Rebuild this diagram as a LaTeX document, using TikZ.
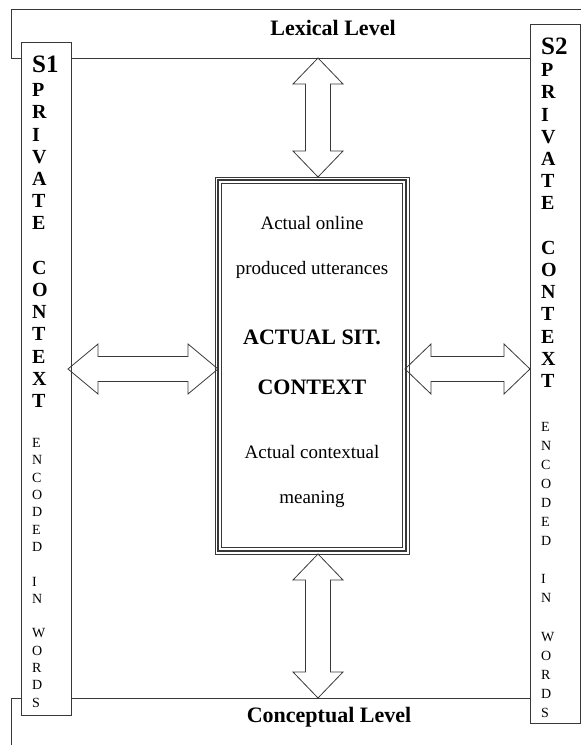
\documentclass[tikz,border=0pt]{standalone}
\usepackage{fontspec}
\setmainfont{Liberation Serif}
\usetikzlibrary{calc}
\definecolor{linegray}{gray}{0.22}

% double-headed block arrow, horizontal: from left point #1 to right point #2, head length #3
\newcommand{\hdarrow}[3]{%
  \draw[fatarrow] (#1) -- ($(#1)+(#3,-25)$) -- ($(#1)+(#3,-12.5)$)
    -- ($(#2)+(-#3,-12.5)$) -- ($(#2)+(-#3,-25)$) -- (#2)
    -- ($(#2)+(-#3,25)$) -- ($(#2)+(-#3,12.5)$)
    -- ($(#1)+(#3,12.5)$) -- ($(#1)+(#3,25)$) -- cycle;}
% double-headed block arrow, vertical: from top point #1 to bottom point #2, head length #3
\newcommand{\vdarrow}[3]{%
  \draw[fatarrow] (#1) -- ($(#1)+(25,#3)$) -- ($(#1)+(12.5,#3)$)
    -- ($(#2)+(12.5,-#3)$) -- ($(#2)+(25,-#3)$) -- (#2)
    -- ($(#2)+(-25,-#3)$) -- ($(#2)+(-12.5,-#3)$)
    -- ($(#1)+(-12.5,#3)$) -- ($(#1)+(-25,#3)$) -- cycle;}

\tikzset{
  frameline/.style={draw=linegray, line width=0.9pt},
  sidebox/.style={draw=linegray, line width=0.9pt, fill=white},
  fatarrow/.style={draw=linegray, line width=0.8pt, line join=miter},
  levellabel/.style={font=\fontsize{22}{26}\selectfont\bfseries, inner sep=0pt},
  headlabel/.style={anchor=base west, inner sep=0pt, font=\fontsize{25}{28}\selectfont\bfseries},
  boldletter/.style={anchor=base west, inner sep=0pt, font=\fontsize{20}{22}\selectfont\bfseries},
  plainletter/.style={anchor=base west, inner sep=0pt, font=\fontsize{14}{16}\selectfont},
  ctrtext/.style={anchor=base, inner sep=0pt, font=\fontsize{19}{22}\selectfont},
  ctrbold/.style={anchor=base, inner sep=0pt, font=\fontsize{22}{26}\selectfont\bfseries},
}

\begin{document}
\begin{tikzpicture}[x=1pt, y=-1pt]
\useasboundingbox (0,0) rectangle (581,745);

% level frames
\draw[frameline] (11,9) rectangle (600,58);
\draw[frameline] (11,698) rectangle (600,770);
\node[levellabel] (lex) at (333,28) {Lexical Level};
\node[levellabel] (con) at (329,717) {Conceptual Level};

% speaker columns
\node[sidebox, minimum width=50pt, minimum height=673pt, inner sep=0pt] (s1) at (46,378.5) {};
\node[sidebox, minimum width=50pt, minimum height=699pt, inner sep=0pt] (s2) at (555,373.5) {};

\node[headlabel] (s1h) at (32,72) {S1};
\foreach \ch/\k in {P/0,R/1,I/2,V/3,A/4,T/5,E/6,C/8,O/9,N/10,T/11,E/12,X/13,T/14}
  \node[boldletter] (s1b-\k) at (32,{96.6+\k*22.2}) {\ch};
\foreach \ch/\k in {E/0,N/1,C/2,O/3,D/4,E/5,D/6,I/8,N/9,W/11,O/12,R/13,D/14,S/15}
  \node[plainletter] (s1p-\k) at (32,{447.6+\k*17.3}) {\ch};

\node[headlabel] (s2h) at (541,54) {S2};
\foreach \ch/\k in {P/0,R/1,I/2,V/3,A/4,T/5,E/6,C/8,O/9,N/10,T/11,E/12,X/13,T/14}
  \node[boldletter] (s2b-\k) at (541,{76.6+\k*22.2}) {\ch};
\foreach \ch/\k in {E/0,N/1,C/2,O/3,D/4,E/5,D/6,I/8,N/9,W/11,O/12,R/13,D/14,S/15}
  \node[plainletter] (s2p-\k) at (541,{431+\k*19.1}) {\ch};

% central box with triple border
\node[draw=linegray, line width=0.8pt, minimum width=194pt, minimum height=377pt, inner sep=0pt] (ctr) at (312,365.5) {};
\draw[linegray, line width=2pt] ($(ctr.north west)+(3.2,3.2)$) rectangle ($(ctr.south east)+(-3.2,-3.2)$);
\draw[linegray, line width=0.8pt] ($(ctr.north west)+(7,7)$) rectangle ($(ctr.south east)+(-7,-7)$);

\node[ctrtext] (t1) at (312,229.5) {Actual online};
\node[ctrtext] (t2) at (312,274.5) {produced utterances};
\node[ctrbold] (t3) at (312,344) {ACTUAL SIT.};
\node[ctrbold] (t4) at (312,394) {CONTEXT};
\node[ctrtext] (t5) at (312,458.5) {Actual contextual};
\node[ctrtext] (t6) at (312,503.5) {meaning};

% arrow end points
\coordinate (upA) at (318,58);
\coordinate (upB) at (318,177);
\coordinate (dnA) at (318,554);
\coordinate (dnB) at (318,698);
\coordinate (lfA) at (68,369);
\coordinate (lfB) at (218,369);
\coordinate (rtA) at (405,369);
\coordinate (rtB) at (530,369);

\vdarrow{upA}{upB}{26}
\vdarrow{dnA}{dnB}{26}
\hdarrow{lfA}{lfB}{30}
\hdarrow{rtA}{rtB}{26}
\end{tikzpicture}
\end{document}
